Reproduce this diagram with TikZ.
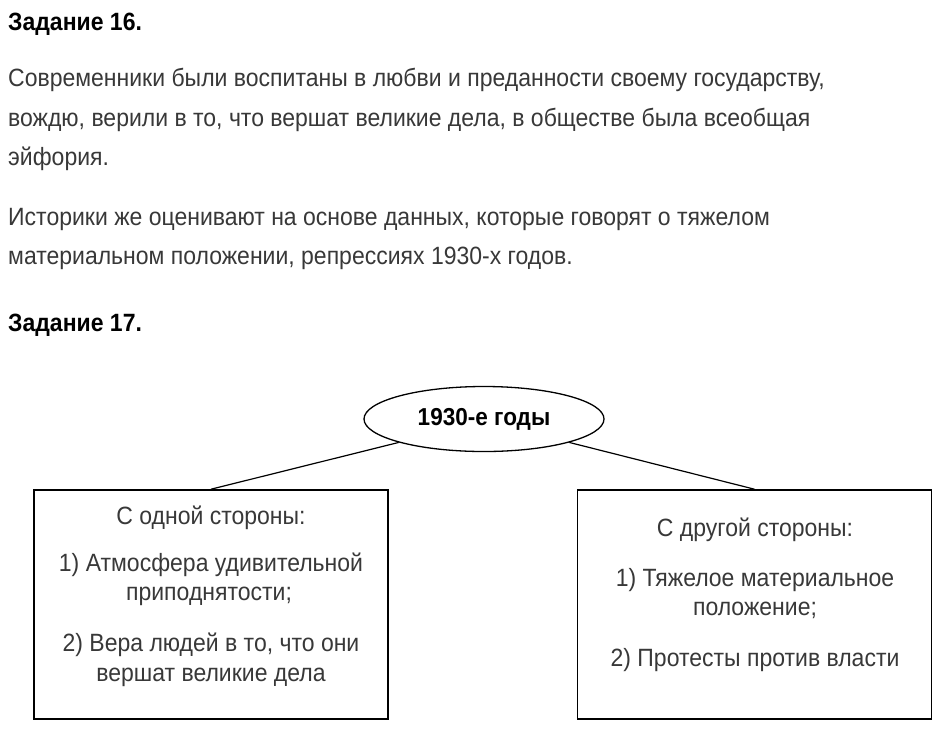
\documentclass[tikz,border=0pt]{standalone}
\usepackage{fontspec}
\setmainfont{Liberation Sans}[FakeStretch=0.92]
\usepackage{xcolor}
\usetikzlibrary{positioning, shapes.geometric}
\definecolor{txtgray}{HTML}{383838}

\begin{document}
\begin{tikzpicture}[x=1pt, y=-1pt,
    hdr/.style={anchor=base west, font=\fontsize{25}{28}\selectfont\bfseries, inner sep=0pt},
    body/.style={anchor=base west, font=\fontsize{25}{28}\selectfont, text=txtgray, inner sep=0pt},
    era/.style={draw, ellipse, line width=1.3pt, minimum width=240pt, minimum height=65pt, inner sep=0pt,
                font=\fontsize{24.5}{27}\selectfont\bfseries},
    side/.style={draw, line width=1.6pt, minimum width=354pt, minimum height=229pt, inner sep=0pt},
    ln/.style={anchor=base, font=\fontsize{25}{28}\selectfont, text=txtgray, inner sep=0pt},
    link/.style={line width=1.2pt}]
  \useasboundingbox (0,0) rectangle (941,737);
  % task 16
  \node[hdr] (t16) at (8,30) {Задание 16.};
  \node[body] (p1) at (8,86)  {Современники были воспитаны в любви и преданности своему государству,};
  \node[body] (p2) at (8,126) {вождю, верили в то, что вершат великие дела, в обществе была всеобщая};
  \node[body] (p3) at (8,165) {эйфория.};
  \node[body] (p4) at (8,225) {Историки же оценивают на основе данных, которые говорят о тяжелом};
  \node[body] (p5) at (8,264) {материальном положении, репрессиях 1930-х годов.};
  % task 17
  \node[hdr] (t17) at (8,331) {Задание 17.};
  \node[era] (era) at (484,419) {1930-е годы};
  \node[side] (oneside) at (211,604.5) {};
  \node[side] (otherside) at (754.5,604.5) {};
  \draw[link] (era.south west) -- (oneside.north);
  \draw[link] (era.south east) -- (otherside.north);
  % left box
  \node[ln] (l1) at (211,524) {С одной стороны:};
  \node[ln] (l2) at (211,571) {1) Атмосфера удивительной};
  \node[ln] (l3) at (209,600) {приподнятости;};
  \node[ln] (l4) at (211,651) {2) Вера людей в то, что они};
  \node[ln] (l5) at (211,681) {вершат великие дела};
  % right box
  \node[ln] (r1) at (755,536) {С другой стороны:};
  \node[ln] (r2) at (755,586) {1) Тяжелое материальное};
  \node[ln] (r3) at (755,615) {положение;};
  \node[ln] (r4) at (755,666) {2) Протесты против власти};
\end{tikzpicture}
\end{document}
